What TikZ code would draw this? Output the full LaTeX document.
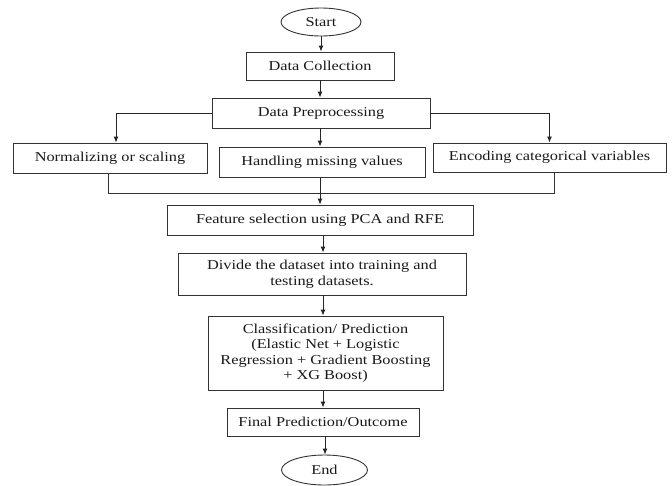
\documentclass[tikz,border=0pt]{standalone}
\usepackage{fontspec}
\setmainfont{Liberation Serif}[FakeStretch=1.2]
\usetikzlibrary{shapes.geometric,arrows.meta}
\tikzset{
  base/.style={draw=black!80, line width=0.9pt, inner sep=0pt, align=center,
    font=\fontsize{13.6}{15.5}\selectfont, text=black!90},
  procbox/.style={base, rectangle},
  termbox/.style={base, ellipse},
  flow/.style={draw=black!85, line width=0.9pt, -{Latex[length=6pt,width=5pt]}},
  link/.style={draw=black!80, line width=0.9pt},
}
\begin{document}
\begin{tikzpicture}[x=1pt,y=-1pt]
\useasboundingbox (0,0) rectangle (672,485);
\node[termbox, minimum width=80pt, minimum height=28pt] (start) at (321,22) {Start};
\node[procbox, minimum width=148pt, minimum height=28pt] (dc) at (320,66) {Data Collection};
\node[procbox, minimum width=218pt, minimum height=30pt] (dp) at (321,113) {Data Preprocessing};
\node[procbox, minimum width=194pt, minimum height=30pt] (norm) at (110,158) {Normalizing or scaling};
\node[procbox, minimum width=206pt, minimum height=30pt] (hand) at (322,162) {Handling missing values};
\node[procbox, minimum width=233pt, minimum height=29pt] (enc) at (549.5,157.5) {Encoding categorical variables};
\node[procbox, minimum width=306pt, minimum height=30pt] (feat) at (320,220) {Feature selection using PCA and RFE};
\node[procbox, minimum width=288pt, minimum height=42pt] (div) at (322,274) {Divide the dataset into training and\\testing datasets.};
\node[procbox, minimum width=235pt, minimum height=74pt] (cls) at (325.5,353) {Classification/ Prediction\\(Elastic Net + Logistic\\Regression + Gradient Boosting\\+ XG Boost)};
\node[procbox, minimum width=192pt, minimum height=28pt] (fin) at (323,422) {Final Prediction/Outcome};
\node[termbox, minimum width=86pt, minimum height=30pt] (end) at (324.5,470) {End};

\coordinate (busL) at (108,193);
\coordinate (busR) at (554,193);

\draw[flow] (start.south) -- (start.south |- dc.north);
\draw[flow] (dc.south) -- (dc.south |- dp.north);
\draw[flow] (dp.west) -| ([xshift=6pt]norm.north);
\draw[flow] (dp.east) -| (enc.north);
\draw[flow] ([xshift=-2pt]hand.north |- dp.south) -- ([xshift=-2pt]hand.north);
\draw[link] ([xshift=-2pt]norm.south) -- (busL) -- (busR) -- (busR |- enc.south);
\draw[flow] ([xshift=-2pt]hand.south) -- ([xshift=-2pt]hand.south |- feat.north);
\draw[flow] ([xshift=3pt]feat.south) -- ([xshift=3pt]feat.south |- div.north);
\draw[flow] ([xshift=1pt]div.south) -- ([xshift=1pt]div.south |- cls.north);
\draw[flow] (fin.north |- cls.south) -- (fin.north);
\draw[flow] ([xshift=2pt]fin.south) -- ([xshift=2pt]fin.south |- end.north);
\end{tikzpicture}
\end{document}
